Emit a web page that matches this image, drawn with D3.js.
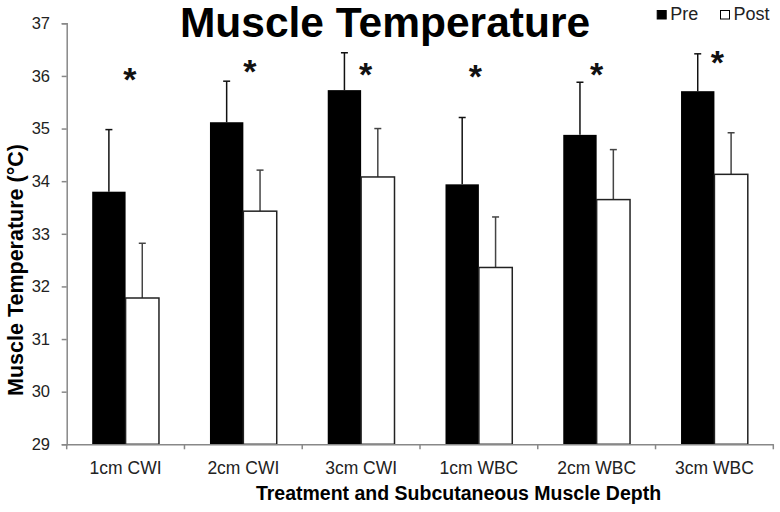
<!DOCTYPE html>
<html>
<head>
<meta charset="utf-8">
<script src="https://cdn.jsdelivr.net/npm/d3@7"></script>
<style>
  body { margin: 0; background: #fff; }
  svg { display: block; font-family: "Liberation Sans", Arial, sans-serif; }
</style>
</head>
<body>
<svg id="chart" width="780" height="512"></svg>
<script>
// ---- data ----
const categories = ["1cm CWI", "2cm CWI", "3cm CWI", "1cm WBC", "2cm WBC", "3cm WBC"];
const seriesNames = ["Pre", "Post"];
const preMean  = [33.80, 35.12, 35.73, 33.94, 34.88, 35.71];
const preErr   = [1.18, 0.78, 0.71, 1.27, 1.00, 0.71];
const postMean = [31.78, 33.43, 34.08, 32.36, 33.65, 34.13];
const postErr  = [1.04, 0.78, 0.92, 0.96, 0.95, 0.79];
const sigLevel = [36.08, 36.23, 36.17, 36.13, 36.17, 36.40];
const yTicks = [29, 30, 31, 32, 33, 34, 35, 36, 37];

(function () {
const svg = d3.select("#chart");
const pLeft = 66.7, pRight = 773.3, pTop = 23.3, pBottom = 444.3;

const x = d3.scaleBand().domain(categories).range([pLeft, pRight]).padding(0);
const xs = d3.scaleBand().domain(seriesNames).range([25.5, x.bandwidth() - 25.5]).padding(0);
const y = d3.scaleLinear().domain([29, 37]).range([pBottom, pTop]);

const rows = categories.map((c, i) => ({
  cat: c,
  vals: [
    { s: "Pre", v: preMean[i], e: preErr[i] },
    { s: "Post", v: postMean[i], e: postErr[i] }
  ]
}));

const g = svg.append("g");
const groups = g.selectAll("g.grp").data(rows).join("g")
  .attr("transform", d => `translate(${x(d.cat)},0)`);

groups.selectAll("g.err").data(d => d.vals).join("g").each(function(d) {
  const cx = xs(d.s) + xs.bandwidth() / 2;
  const sel = d3.select(this);
  const col = d.s === "Pre" ? "#111" : "#444";
  sel.append("line").attr("x1", cx).attr("x2", cx)
    .attr("y1", y(d.v)).attr("y2", y(d.v + d.e))
    .attr("stroke", col).attr("stroke-width", 1.5);
  sel.append("line").attr("x1", cx - 3.5).attr("x2", cx + 3.5)
    .attr("y1", y(d.v + d.e)).attr("y2", y(d.v + d.e))
    .attr("stroke", col).attr("stroke-width", 1.5);
});

groups.selectAll("rect").data(d => d.vals).join("rect")
  .attr("x", d => xs(d.s))
  .attr("width", xs.bandwidth())
  .attr("y", d => y(d.v))
  .attr("height", d => y(29) - y(d.v))
  .attr("fill", d => d.s === "Pre" ? "#000" : "#fff")
  .attr("stroke", d => d.s === "Pre" ? "#000" : "#222")
  .attr("stroke-width", d => d.s === "Pre" ? 0 : 1.5);

// y axis
const yAxis = d3.axisLeft(y).tickValues(yTicks).tickSize(5).tickPadding(11.7).tickFormat(d3.format("d"));
const ya = svg.append("g").attr("transform", `translate(${pLeft},0)`).call(yAxis);
ya.select(".domain").attr("stroke", "#888").attr("stroke-width", 1.5);
ya.selectAll(".tick line").attr("stroke", "#888").attr("stroke-width", 1.5);
ya.selectAll(".tick text").attr("font-size", 16.5).attr("fill", "#222")
  .attr("font-family", "Liberation Sans, Arial, sans-serif");

// x axis
const xAxis = d3.axisBottom(x).tickSize(0).tickPadding(17);
const xa = svg.append("g").attr("transform", `translate(0,${pBottom})`).call(xAxis);
xa.select(".domain").attr("stroke", "#888").attr("stroke-width", 1.5);
xa.selectAll(".tick text").attr("font-size", 17.5).attr("fill", "#222")
  .attr("font-family", "Liberation Sans, Arial, sans-serif");
const bounds = categories.map(c => x(c)).concat([x(categories[categories.length - 1]) + x.bandwidth()]);
xa.selectAll("line.bt").data(bounds).join("line").attr("class", "bt")
  .attr("x1", d => d).attr("x2", d => d).attr("y1", 0).attr("y2", 5)
  .attr("stroke", "#888").attr("stroke-width", 1.5);

// significance asterisks
const nudge = [4.4, 6.5, 4.4, -3.5, 0, 3];
const sigFs = 34;
svg.selectAll("text.sig").data(categories).join("text").attr("class", "sig")
  .attr("x", (c, i) => x(c) + x.bandwidth() / 2 + nudge[i])
  .attr("y", (c, i) => y(sigLevel[i]) + 0.57 * sigFs)
  .attr("text-anchor", "middle")
  .attr("font-size", sigFs)
  .attr("font-weight", "bold")
  .attr("fill", "#111")
  .text("*");

// title
svg.append("text").attr("x", 385).attr("y", 37).attr("text-anchor", "middle")
  .attr("font-size", 42.5).attr("font-weight", "bold").attr("fill", "#000")
  .text("Muscle Temperature");

// axis titles
svg.append("text").attr("x", 458.5).attr("y", 500).attr("text-anchor", "middle")
  .attr("font-size", 19.5).attr("font-weight", "bold").attr("fill", "#000")
  .text("Treatment and Subcutaneous Muscle Depth");
svg.append("text").attr("transform", "translate(23,270) rotate(-90)").attr("text-anchor", "middle")
  .attr("font-size", 21.5).attr("font-weight", "bold").attr("fill", "#000")
  .text("Muscle Temperature (°C)");

// legend
const legX = [656.7, 720];
const leg = svg.selectAll("g.leg").data(seriesNames).join("g").attr("class", "leg")
  .attr("transform", (d, i) => `translate(${legX[i]},0)`);
leg.append("rect").attr("x", 0.5).attr("y", 10.5).attr("width", 9).attr("height", 8.5)
  .attr("fill", d => d === "Pre" ? "#000" : "#fff")
  .attr("stroke", "#000").attr("stroke-width", 1);
leg.append("text").attr("x", 13.5).attr("y", 20).attr("font-size", 18).attr("fill", "#222")
  .text(d => d);
})();
</script>
</body>
</html>
